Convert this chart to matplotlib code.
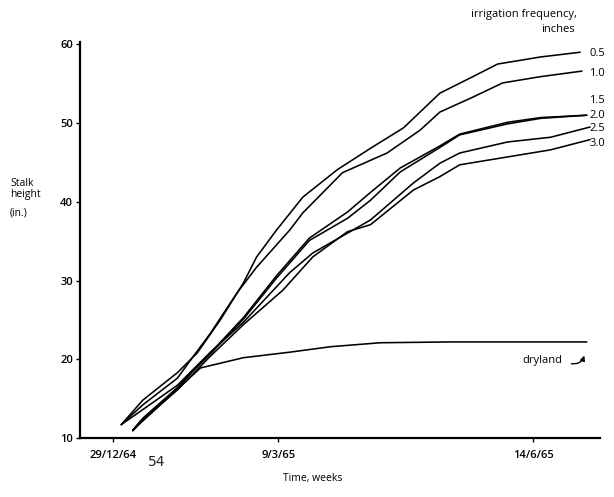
import matplotlib
matplotlib.use("Agg")
import matplotlib.pyplot as plt

plt.rcParams['font.family'] = ['Open Sans', 'DejaVu Sans']

# ---- data (x in weeks from 29/12/64, y = stalk height in inches) ----
x_05 = [0.5, 1.8, 3.9, 5.1, 6.5, 7.9, 8.7, 9.9, 11.5, 13.6, 15.6, 17.6, 19.8, 21.8, 23.3, 25.9, 28.3]
y_05 = [11.7, 14.8, 18.3, 20.8, 25.0, 29.7, 33.0, 36.4, 40.6, 44.1, 46.8, 49.4, 53.8, 55.9, 57.5, 58.4, 59.0]

x_10 = [0.5, 1.8, 3.9, 4.7, 5.9, 7.5, 8.7, 10.7, 11.5, 13.9, 16.6, 18.6, 19.8, 21.8, 23.6, 25.9, 28.4]
y_10 = [11.7, 14.2, 17.6, 19.9, 23.3, 28.4, 31.7, 36.4, 38.6, 43.7, 46.2, 49.1, 51.4, 53.3, 55.1, 55.9, 56.6]

x_15 = [1.2, 1.8, 3.9, 4.8, 5.9, 7.9, 9.9, 11.9, 14.2, 15.6, 17.4, 19.8, 21.0, 23.9, 25.9, 28.7]
y_15 = [11.0, 12.5, 16.4, 18.5, 20.8, 25.3, 30.6, 35.4, 38.7, 41.2, 44.3, 47.1, 48.6, 50.1, 50.7, 51.0]

x_20 = [1.2, 1.8, 3.9, 4.8, 5.9, 7.9, 9.9, 11.9, 14.2, 15.6, 17.4, 19.8, 21.0, 23.9, 25.9, 28.7]
y_20 = [11.0, 12.4, 16.3, 18.4, 20.7, 25.1, 30.3, 35.1, 37.9, 40.2, 43.8, 46.9, 48.5, 49.9, 50.6, 51.0]

x_25 = [0.5, 1.8, 3.9, 5.9, 7.9, 10.7, 12.1, 15.6, 18.2, 19.8, 21.0, 23.9, 26.5, 28.9]
y_25 = [11.7, 13.6, 16.7, 20.9, 24.7, 31.0, 33.5, 37.7, 42.4, 44.9, 46.2, 47.6, 48.2, 49.5]

x_30 = [1.2, 1.8, 3.9, 5.9, 7.9, 10.3, 12.1, 14.2, 15.6, 18.2, 19.8, 21.0, 23.9, 26.5, 28.9]
y_30 = [10.9, 12.3, 16.1, 20.4, 24.4, 28.8, 33.0, 36.2, 37.1, 41.5, 43.2, 44.7, 45.7, 46.6, 47.9]

x_dry = [1.2, 3.9, 5.3, 7.9, 10.7, 13.2, 16.2, 20.4, 28.7]
y_dry = [11.0, 16.2, 18.9, 20.2, 20.9, 21.6, 22.1, 22.2, 22.2]

series_x = [x_05, x_10, x_15, x_20, x_25, x_30, x_dry]
series_y = [y_05, y_10, y_15, y_20, y_25, y_30, y_dry]

line_labels = ['0.5', '1.0', '1.5', '2.0', '2.5', '3.0']
label_vals = [58.9, 56.3, 52.9, 51.0, 49.3, 47.4]

xtick_pos = [0, 10, 25.45]
xtick_labels = ['29/12/64', '9/3/65', '14/6/65']
ytick_vals = [10, 20, 30, 40, 50, 60]

# ---- figure ----
W, H = 614, 497
fig = plt.figure(figsize=(W / 100, H / 100), dpi=100)
ax = fig.add_axes([80 / W, 1 - 438 / H, 520 / W, (438 - 42) / H])

for xs, ys in zip(series_x, series_y):
    ax.plot(xs, ys, color='black', lw=1.15, solid_capstyle='round', solid_joinstyle='round')

ax.set_xlim(-2.0, 29.5)
ax.set_ylim(10, 60.3)

for s in ['top', 'right']:
    ax.spines[s].set_visible(False)
for s in ['left', 'bottom']:
    ax.spines[s].set_linewidth(1.6)
    ax.spines[s].set_color('black')

ax.set_yticks(ytick_vals)
ax.set_yticklabels([str(v) for v in ytick_vals], fontsize=8, fontweight='semibold')
ax.set_xticks(xtick_pos)
ax.set_xticklabels(xtick_labels, fontsize=8, fontweight='semibold')
ax.tick_params(axis='both', direction='out', length=3, width=1, pad=2, colors='black')
ax.tick_params(axis='x', pad=6)

# line labels
for lab, v in zip(line_labels, label_vals):
    ax.text(28.85, v, lab, fontsize=8, va='center', ha='left')

ax.text(27.2, 19.8, 'dryland', fontsize=8, va='center', ha='right')
ax.annotate('', xy=(28.6, 20.8), xytext=(27.6, 19.5),
            arrowprops=dict(arrowstyle='-|>', color='black', lw=1.0,
                            connectionstyle='arc3,rad=0.5', mutation_scale=7))

fig.text(577 / W, 1 - 15 / H, 'irrigation frequency,', fontsize=8, ha='right', va='center')
fig.text(575 / W, 1 - 29 / H, 'inches', fontsize=8, ha='right', va='center')

fig.text(10 / W, 1 - 189 / H, 'Stalk\nheight', fontsize=7.5, ha='left', va='center',
         linespacing=1.0)
fig.text(10 / W, 1 - 213 / H, '(in.)', fontsize=7.5, ha='left', va='center')

fig.text(313 / W, 1 - 478 / H, 'Time, weeks', fontsize=7.5, ha='center', va='center')
fig.text(157 / W, 1 - 462 / H, '54', fontsize=10, ha='center', va='center',
         family=['DejaVu Sans'], color='#222222')

fig.savefig('out.png', dpi=100)
